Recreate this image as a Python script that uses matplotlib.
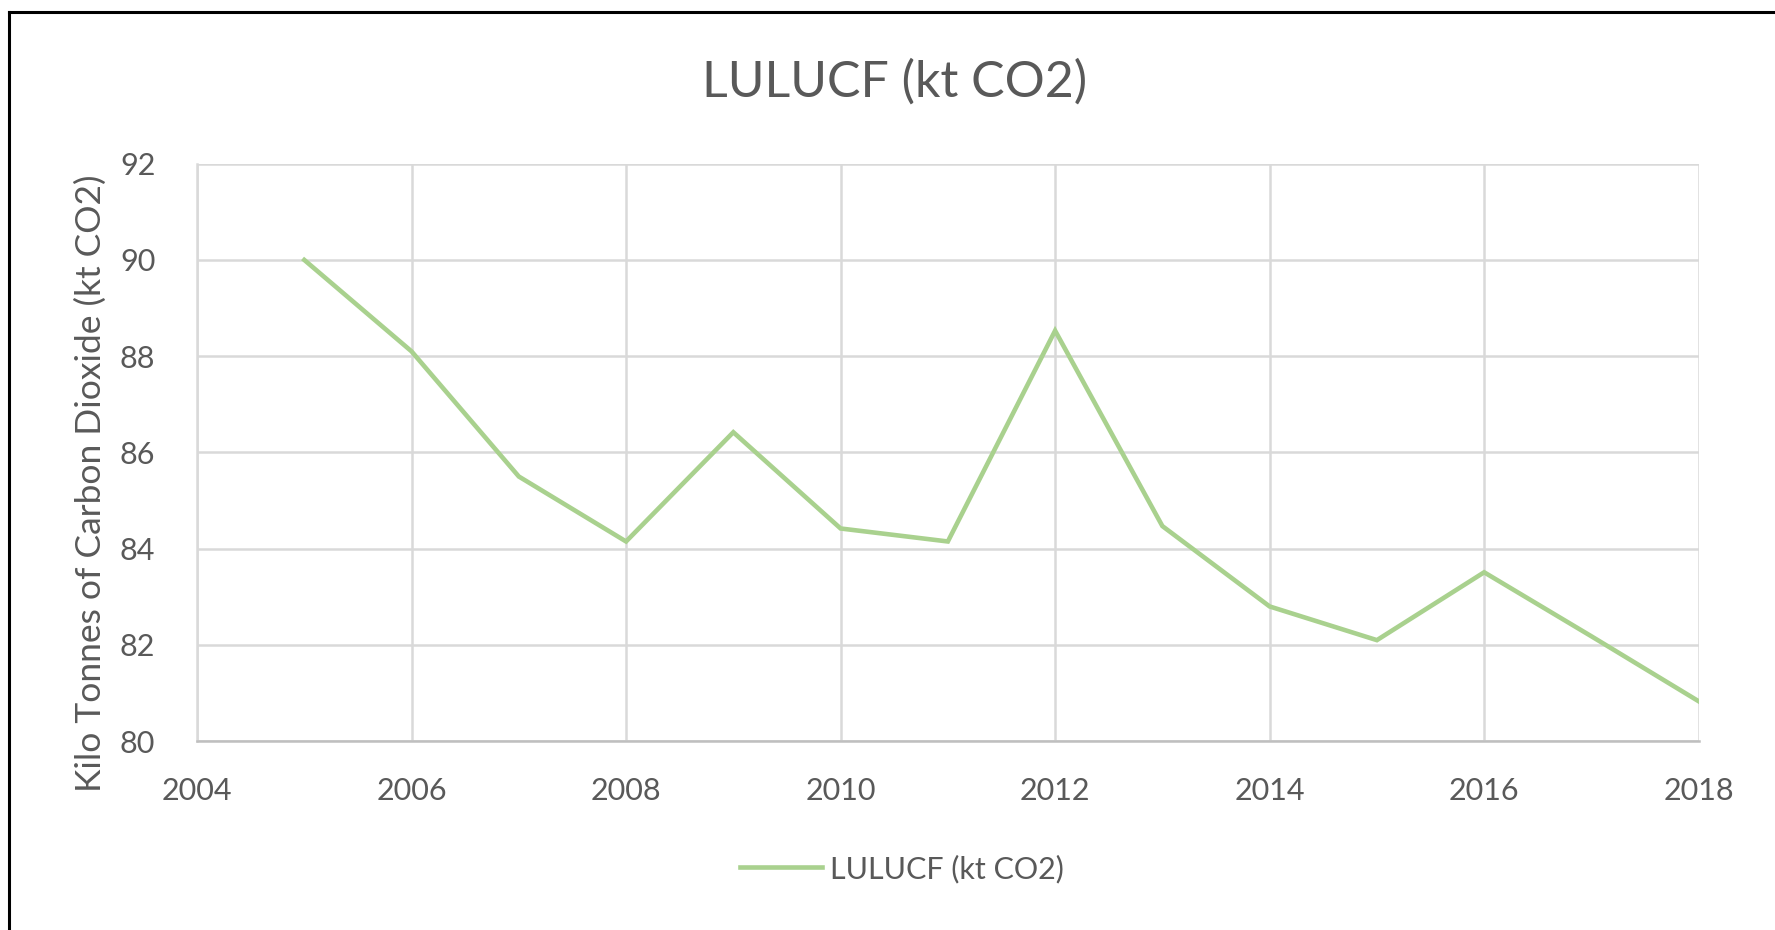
import matplotlib
matplotlib.use("Agg")
import matplotlib.pyplot as plt
from matplotlib.lines import Line2D

years = [2005, 2006, 2007, 2008, 2009, 2010, 2011, 2012, 2013, 2014, 2015, 2016, 2017, 2018]
lulucf = [90.0, 88.1, 85.5, 84.15, 86.42, 84.42, 84.15, 88.53, 84.47, 82.8, 82.1, 83.51, 82.18, 80.83]
x_ticks = [2004, 2006, 2008, 2010, 2012, 2014, 2016, 2018]
y_ticks = [80, 82, 84, 86, 88, 90, 92]
title = "LULUCF (kt CO2)"
ylabel = "Kilo Tonnes of Carbon Dioxide (kt CO2)"
series_name = "LULUCF (kt CO2)"

plt.rcParams['font.family'] = ['Lato', 'DejaVu Sans']
text_color = '#595959'
grid_color = '#D9D9D9'
line_color = '#A9D18E'

fig = plt.figure(figsize=(17.75, 9.3), dpi=100)
ax = fig.add_axes([0.111, 0.203, 0.846, 0.621])

ax.plot(years, lulucf, color=line_color, lw=3.3, solid_joinstyle='miter', label=series_name, zorder=3)

ax.set_xlim(2004, 2018)
ax.set_ylim(80, 92)
ax.set_xticks(x_ticks)
ax.set_yticks(y_ticks)
ax.grid(True, color=grid_color, lw=1.8, zorder=0)
for s in ['top', 'right']:
    ax.spines[s].set_visible(False)
ax.spines['left'].set_color(grid_color)
ax.spines['left'].set_linewidth(1.8)
ax.spines['bottom'].set_color('#BFBFBF')
ax.spines['bottom'].set_linewidth(1.8)
ax.tick_params(length=0, labelsize=22, colors=text_color)
ax.tick_params(axis='y', pad=30)
ax.tick_params(axis='x', pad=26)

fig.text(0.051, 0.48, ylabel, rotation=90, ha='center', va='center',
         fontsize=25.5, color=text_color)
fig.text(0.504, 0.912, title, ha='center', va='center', fontsize=36, color=text_color)

leg = fig.legend(handles=[Line2D([0], [0], color=line_color, lw=3.3)], labels=[series_name],
                 loc='center', bbox_to_anchor=(0.508, 0.066), frameon=False,
                 fontsize=22, handlelength=2.7, handletextpad=0.25)
for t in leg.get_texts():
    t.set_color(text_color)

# chart border (left and top edges visible)
fig.add_artist(Line2D([0.005, 0.005], [0.0, 0.987], transform=fig.transFigure, color='black', lw=2.2))
fig.add_artist(Line2D([0.005, 1.0], [0.987, 0.987], transform=fig.transFigure, color='black', lw=2.2))

fig.savefig("out.png", dpi=100, facecolor='white')
